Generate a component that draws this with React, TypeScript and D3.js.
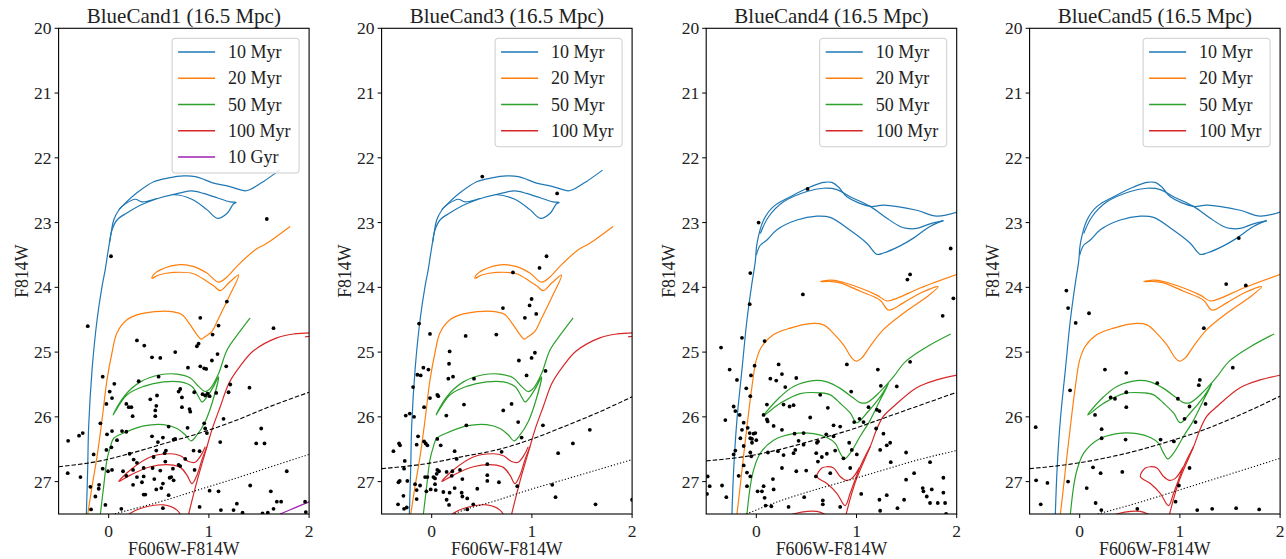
import React from "react";
import * as d3 from "d3";

type P = [number, number];

// ---------- axes / labels ----------
const X_DOMAIN: [number, number] = [-0.5, 2];
const Y_DOMAIN: [number, number] = [20, 27.5];
const X_TICKS = [0, 1, 2];
const Y_TICKS = [20, 21, 22, 23, 24, 25, 26, 27];
const TITLES = ["BlueCand1 (16.5 Mpc)", "BlueCand3 (16.5 Mpc)", "BlueCand4 (16.5 Mpc)", "BlueCand5 (16.5 Mpc)"];
const X_LABEL = "F606W-F814W";
const Y_LABEL = "F814W";
const AGE_LABELS = ["10 Myr", "20 Myr", "50 Myr", "100 Myr", "10 Gyr"];
const AGE_COLORS = ["#1f77b4", "#ff7f0e", "#2ca02c", "#d62728", "#a11fb4"];

// ---------- isochrone set A (BlueCand1, BlueCand3) ----------
const ISO_A_10MYR: P[][] = [
  [[-0.223, 27.5], [-0.21, 26.82], [-0.2, 26.15], [-0.166, 25.27], [-0.116, 24.5], [-0.066, 23.98], [-0.035, 23.73], [-0.01, 23.48], [0.023, 23.17], [0.05, 22.96], [0.1, 22.81], [0.166, 22.7], [0.282, 22.54], [0.449, 22.37], [0.6, 22.31], [0.748, 22.28], [0.864, 22.29], [0.96, 22.34], [1.047, 22.39], [1.2, 22.44], [1.363, 22.51], [1.412, 22.49], [1.55, 22.36], [1.705, 22.19]],
  [[0.01, 23.3], [0.033, 23.115], [0.083, 22.96], [0.183, 22.85], [0.349, 22.71], [0.648, 22.57], [0.83, 22.64], [0.98, 22.8], [1.086, 22.935], [1.18, 22.86], [1.246, 22.71], [1.272, 22.69], [1.213, 22.68], [1.047, 22.6], [0.947, 22.55], [0.83, 22.51], [0.714, 22.54], [0.482, 22.63], [0.332, 22.68], [0.266, 22.64], [0.166, 22.71], [0.1, 22.8]],
];
const ISO_A_20MYR: P[][] = [
  [[-0.209, 27.5], [-0.166, 27.07], [-0.116, 26.61], [-0.066, 26.04], [-0.017, 25.43], [0.033, 25.01], [0.083, 24.7], [0.183, 24.5], [0.316, 24.41], [0.515, 24.37], [0.648, 24.38], [0.73, 24.42], [0.814, 24.58], [0.88, 24.73], [0.924, 24.8], [0.963, 24.76], [1.03, 24.68], [1.09, 24.5], [1.2, 24.15], [1.296, 23.81],
   [1.2, 23.93], [1.113, 24.05], [1.05, 23.98], [0.981, 23.91], [0.847, 23.79], [0.648, 23.77], [0.5, 23.81], [0.432, 23.86],
   [0.45, 23.8], [0.515, 23.73], [0.715, 23.65], [0.848, 23.68], [0.98, 23.78], [1.097, 23.92], [1.18, 23.84], [1.296, 23.65], [1.463, 23.42], [1.578, 23.32], [1.81, 23.06]],
];
const ISO_A_50MYR: P[][] = [
  [[-0.083, 27.5], [-0.05, 27.07], [-0.017, 26.66], [0.017, 26.46], [0.05, 26.33], [0.15, 26.25], [0.349, 26.14], [0.548, 26.12], [0.682, 26.18], [0.765, 26.28], [0.821, 26.37], [0.881, 26.28], [0.964, 26.07], [1.031, 25.79], [1.097, 25.38],
   [1.047, 25.53], [0.981, 25.69], [0.931, 25.77], [0.897, 25.69], [0.831, 25.53], [0.715, 25.46], [0.548, 25.46], [0.349, 25.53], [0.183, 25.66], [0.044, 25.97],
   [0.15, 25.69], [0.316, 25.46], [0.515, 25.35], [0.682, 25.34], [0.815, 25.4], [0.897, 25.53], [0.964, 25.61], [1.014, 25.56], [1.097, 25.33], [1.18, 24.97], [1.3, 24.7], [1.412, 24.47]],
];
const ISO_A_100MYR: P[][] = [
  [[0.2, 27.52], [0.216, 27.49], [0.349, 27.4], [0.548, 27.36], [0.682, 27.44], [0.72, 27.52]],
  [[0.798, 27.5], [0.88, 27.0], [0.981, 26.46], [1.03, 26.2], [1.114, 25.84], [1.2, 25.48], [1.31, 25.22], [1.445, 24.98], [1.678, 24.78], [1.85, 24.72], [2.05, 24.7]],
  [[0.981, 26.46], [0.931, 26.66], [0.881, 26.9], [0.831, 27.03], [0.781, 26.9], [0.715, 26.78], [0.615, 26.74], [0.415, 26.77], [0.216, 26.9], [0.1, 27.0], [0.216, 26.82], [0.415, 26.62], [0.615, 26.57], [0.715, 26.6], [0.798, 26.69], [0.864, 26.7], [0.914, 26.61], [0.964, 26.46]],
  [[1.96, 24.765], [2.01, 24.755]],
];
const ISO_A_10GYR: P[][] = [
  [[1.71, 27.5], [1.85, 27.41], [2.02, 27.3]],
];

// ---------- isochrone set B (BlueCand4, BlueCand5) ----------
const ISO_B_10MYR: P[][] = [
  [[-0.243, 27.5], [-0.226, 26.82], [-0.193, 26.04], [-0.143, 25.27], [-0.093, 24.5], [-0.043, 23.93], [-0.01, 23.6], [0.007, 23.32], [0.073, 22.96], [0.173, 22.75], [0.339, 22.6], [0.538, 22.45], [0.671, 22.38], [0.754, 22.38], [0.82, 22.45], [0.904, 22.6], [1.136, 22.75], [1.27, 22.73], [1.6, 22.81], [1.8, 22.9], [2.02, 22.83]],
  [[0.04, 23.17], [0.123, 22.91], [0.272, 22.68], [0.505, 22.52], [0.671, 22.47], [0.804, 22.49], [0.937, 22.6], [1.136, 22.75], [1.3, 22.93], [1.435, 23.06], [1.502, 23.09], [1.6, 23.09], [1.734, 23.02], [1.867, 22.97]],
  [[0.0, 23.5], [0.04, 23.35], [0.106, 23.27], [0.206, 23.11], [0.405, 22.96], [0.605, 22.9], [0.738, 22.92], [0.937, 23.12], [1.103, 23.32], [1.203, 23.49], [1.27, 23.47], [1.435, 23.36], [1.568, 23.24], [1.734, 23.06], [1.867, 22.97]],
];
const ISO_B_20MYR: P[][] = [
  [[-0.193, 27.5], [-0.176, 27.28], [-0.143, 26.82], [-0.093, 26.15], [-0.043, 25.53], [0.0, 25.12], [0.056, 24.91], [0.173, 24.73], [0.339, 24.63], [0.538, 24.56], [0.671, 24.58], [0.77, 24.71], [0.87, 24.89], [0.953, 25.09], [0.997, 25.14], [1.053, 25.09], [1.136, 24.91], [1.27, 24.65], [1.468, 24.4], [1.7, 24.15], [1.816, 23.99],
   [1.65, 24.08], [1.466, 24.24], [1.32, 24.35], [1.236, 24.2], [1.037, 24.06], [0.838, 23.93], [0.738, 23.91], [0.638, 23.91],
   [0.738, 23.89], [0.837, 23.91], [1.037, 24.01], [1.203, 24.12], [1.303, 24.21], [1.4, 24.17], [1.635, 24.01], [2.02, 23.79]],
];
const ISO_B_50MYR: P[][] = [
  [[-0.093, 27.5], [-0.06, 27.07], [-0.027, 26.82], [0.04, 26.56], [0.173, 26.36], [0.372, 26.26], [0.571, 26.26], [0.705, 26.32], [0.788, 26.41], [0.837, 26.56], [0.88, 26.65], [0.937, 26.56], [1.037, 26.3], [1.137, 26.05], [1.236, 25.74], [1.319, 25.49],
   [1.236, 25.69], [1.103, 25.94], [1.004, 26.09], [0.937, 25.94], [0.837, 25.79], [0.738, 25.66], [0.638, 25.63], [0.439, 25.64], [0.239, 25.79], [0.08, 25.97],
   [0.239, 25.69], [0.372, 25.53], [0.571, 25.44], [0.705, 25.46], [0.837, 25.56], [0.97, 25.71], [1.037, 25.78], [1.103, 25.78], [1.236, 25.61], [1.37, 25.38], [1.486, 25.15], [1.7, 24.92], [1.94, 24.72]],
];
const ISO_B_100MYR: P[][] = [
  [[0.33, 27.52], [0.45, 27.47], [0.605, 27.46], [0.704, 27.52]],
  [[0.897, 27.5], [0.99, 27.0], [1.137, 26.46], [1.2, 26.2], [1.269, 25.99], [1.37, 25.84], [1.6, 25.55], [1.8, 25.43], [2.02, 25.35]],
  [[1.137, 26.46], [1.037, 26.77], [0.937, 27.18], [0.887, 27.37], [0.804, 27.18], [0.705, 27.03], [0.605, 26.92], [0.655, 26.79], [0.705, 26.77], [0.771, 26.79], [0.837, 26.92], [0.897, 26.98], [0.954, 26.95], [1.03, 26.78]],
];

// ---------- completeness limits ----------
const DASHED_1: P[] = [[-0.5, 26.77], [-0.083, 26.68], [0.25, 26.55], [0.58, 26.4], [0.91, 26.25], [1.245, 26.07], [1.578, 25.86], [2.0, 25.62]];
const DOTTED_1: P[] = [[0.0, 27.52], [0.58, 27.28], [0.91, 27.12], [1.245, 26.96], [1.58, 26.79], [2.0, 26.58]];
const DASHED_2: P[] = [[-0.5, 26.8], [0.0, 26.71], [0.32, 26.61], [0.65, 26.51], [0.987, 26.35], [1.32, 26.15], [1.65, 25.94], [2.0, 25.69]];
const DOTTED_2: P[] = [[0.2, 27.51], [0.32, 27.44], [0.65, 27.29], [0.987, 27.12], [1.32, 26.97], [1.65, 26.82], [2.0, 26.66]];
const DASHED_3: P[] = [[-0.5, 26.68], [-0.06, 26.6], [0.27, 26.49], [0.6, 26.35], [0.94, 26.2], [1.27, 26.02], [1.6, 25.84], [2.0, 25.62]];
const DOTTED_3: P[] = [[-0.1, 27.5], [0.27, 27.28], [0.6, 27.12], [0.94, 26.97], [1.27, 26.82], [1.6, 26.67], [2.0, 26.52]];
const DASHED_4: P[] = [[-0.5, 26.8], [-0.09, 26.73], [0.24, 26.64], [0.575, 26.52], [0.91, 26.37], [1.24, 26.2], [1.57, 25.99], [2.0, 25.68]];
const DOTTED_4: P[] = [[0.18, 27.5], [0.575, 27.33], [0.91, 27.17], [1.24, 27.01], [1.57, 26.85], [2.0, 26.64]];

// ---------- stars ----------
const STARS_1: P[] = [
  [1.578, 22.945], [0.023, 23.52],
  [1.179, 24.22], [0.914, 24.47], [-0.209, 24.6], [1.096, 24.59], [1.037, 24.73], [1.645, 24.63], [0.88, 24.91], [0.897, 24.87], [0.282, 24.82], [0.355, 24.9], [0.664, 25.0], [0.432, 25.08], [0.515, 25.09], [1.086, 25.03], [1.03, 25.13], [0.791, 25.24], [0.914, 25.22], [0.953, 25.25], [0.973, 25.26], [1.173, 25.22], [-0.06, 25.38], [0.498, 25.38], [0.299, 25.45], [0.056, 25.49], [1.213, 25.5], [1.405, 25.55], [0.01, 25.61], [0.698, 25.61], [0.714, 25.57], [0.854, 25.62], [1.073, 25.63], [0.482, 25.67], [1.196, 25.62], [0.731, 25.7], [0.033, 25.71], [0.415, 25.73], [0.937, 25.65], [0.963, 25.67], [0.987, 25.64], [1.007, 25.68], [-0.023, 25.8], [0.176, 25.8], [0.2, 25.85], [0.226, 25.85], [0.475, 25.83], [0.465, 25.9], [0.807, 25.88], [0.814, 25.92], [0.239, 25.99], [0.465, 25.99], [0.731, 25.85], [1.146, 26.03], [-0.083, 26.1], [0.598, 26.15], [0.787, 26.17], [0.963, 26.18], [0.98, 26.25], [0.953, 26.1], [-0.296, 26.29], [-0.259, 26.25], [-0.405, 26.37], [-0.017, 26.27], [0.033, 26.22], [0.133, 26.22], [0.176, 26.23], [0.083, 26.36], [0.432, 26.3], [0.491, 26.39], [0.541, 26.32], [0.648, 26.35], [0.664, 26.34], [-0.023, 26.51], [0.027, 26.47], [0.209, 26.57], [0.475, 26.52], [0.571, 26.52], [0.558, 26.56], [-0.15, 26.58], [0.249, 26.66], [0.282, 26.71], [0.448, 26.62], [0.565, 26.69], [0.764, 26.65], [0.847, 26.52], [0.907, 26.53], [0.714, 26.76], [-0.06, 26.8], [-0.007, 26.84], [0.033, 26.82], [0.243, 26.82], [0.349, 26.79], [0.438, 26.79], [0.515, 26.83], [0.143, 26.84], [0.176, 26.91], [0.641, 26.8], [0.698, 26.74], [0.857, 26.82], [-0.409, 26.87], [-0.282, 26.93], [0.282, 26.93], [0.349, 26.92], [0.455, 26.96], [0.608, 26.94], [0.624, 26.93], [0.648, 26.98], [-0.096, 27.05], [0.243, 27.05], [0.332, 27.01], [0.541, 27.03], [-0.183, 27.08], [0.475, 27.12], [0.525, 27.1], [-0.1, 27.11], [1.007, 27.14], [1.096, 27.15], [1.412, 27.06], [1.618, 27.15], [1.777, 26.84], [-0.133, 27.23], [0.349, 27.2], [0.365, 27.2], [0.598, 27.21], [1.279, 27.34], [1.678, 27.31], [1.721, 27.31], [1.96, 27.31], [0.126, 27.42], [0.541, 27.41], [0.907, 27.39], [1.12, 27.44], [1.246, 27.44], [-0.176, 27.43], [-0.033, 27.36], [1.336, 27.48], [1.535, 27.49], [1.588, 27.48], [1.645, 27.42], [1.967, 27.47], [1.522, 26.18], [1.472, 26.41], [1.555, 26.41], [1.113, 26.39],
];
const STARS_2: P[] = [
  [0.505, 22.29], [1.252, 22.55], [1.146, 23.52], [1.076, 23.7], [0.811, 23.77],
  [0.997, 24.18], [0.977, 24.28], [0.711, 24.32], [1.043, 24.41], [0.93, 24.47], [-0.126, 24.56], [-0.017, 24.72], [0.645, 24.73], [0.339, 24.75], [0.179, 24.99], [1.03, 25.01], [0.997, 25.09], [0.87, 25.13], [0.173, 25.18], [-0.083, 25.24], [-0.033, 25.27], [-0.143, 25.35], [-0.11, 25.36], [1.136, 25.29], [0.947, 25.36], [0.166, 25.41], [0.213, 25.38], [0.422, 25.41], [-0.186, 25.54], [0.056, 25.66], [0.066, 25.68], [-0.017, 25.71], [0.322, 25.81], [0.797, 25.8], [0.714, 25.9], [-0.076, 25.85], [-0.259, 25.98], [-0.219, 25.95], [-0.176, 26.0], [0.146, 25.98], [0.863, 26.08], [1.11, 26.13], [0.346, 26.13], [1.578, 26.2], [-0.382, 26.53], [-0.326, 26.41], [-0.316, 26.44], [-0.269, 26.68], [-0.136, 26.3], [-0.076, 26.38], [-0.06, 26.41], [-0.043, 26.44], [-0.15, 26.43], [0.056, 26.34], [0.09, 26.44], [0.229, 26.53], [0.698, 26.54], [0.897, 26.32], [1.409, 26.41], [1.262, 26.56], [0.249, 26.65], [-0.276, 26.8], [0.056, 26.82], [0.073, 26.84], [0.05, 26.88], [0.149, 26.85], [0.206, 26.84], [0.282, 26.82], [0.2, 26.91], [0.555, 26.73], [0.555, 26.9], [0.555, 26.99], [0.671, 27.01], [0.306, 26.96], [-0.243, 26.99], [-0.332, 27.01], [-0.319, 26.99], [-0.166, 27.04], [-0.066, 26.93], [-0.043, 26.93], [0.017, 26.93], [0.033, 26.95], [0.854, 27.07], [1.203, 27.05], [-0.282, 27.22], [-0.15, 27.13], [-0.053, 27.15], [-0.01, 27.12], [0.04, 27.13], [0.116, 27.16], [0.179, 27.17], [0.229, 27.1], [0.299, 27.17], [0.306, 27.23], [0.355, 27.26], [0.455, 27.11], [0.149, 27.28], [0.173, 27.36], [-0.336, 27.35], [-0.249, 27.4], [-0.276, 27.42], [-0.15, 27.27], [0.355, 27.43], [0.415, 27.35], [1.236, 27.24], [1.635, 27.35], [2.0, 27.28], [0.033, 27.04], [-0.116, 27.06],
];
const STARS_3: P[] = [
  [0.512, 22.48], [0.023, 23.0], [1.94, 23.4], [1.535, 23.8], [-0.06, 23.78], [1.508, 23.88],
  [0.465, 24.11], [1.967, 24.17], [-0.066, 24.26], [1.86, 24.44], [-0.143, 24.78], [0.083, 24.83], [-0.352, 24.93], [1.535, 25.15], [0.904, 25.19], [-0.266, 25.27], [-0.053, 25.36], [-0.017, 25.21], [0.223, 25.19], [1.213, 25.27], [0.14, 25.41], [0.199, 25.44], [0.256, 25.34], [0.399, 25.4], [0.289, 25.54], [-0.193, 25.43], [-0.1, 25.56], [-0.06, 25.68], [1.402, 25.53], [1.243, 25.52], [0.947, 25.61], [0.638, 25.66], [0.106, 25.81], [0.272, 25.81], [0.332, 25.84], [0.372, 25.82], [0.714, 25.86], [1.203, 25.89], [1.229, 25.91], [1.12, 25.85], [-0.226, 25.84], [-0.166, 25.97], [-0.309, 26.05], [0.073, 25.97], [0.106, 26.04], [0.113, 26.07], [-0.209, 25.91], [-0.126, 26.09], [-0.143, 26.2], [-0.086, 26.17], [-0.066, 26.25], [-0.027, 26.26], [-0.01, 26.25], [0.173, 26.14], [0.256, 26.2], [0.382, 26.26], [0.472, 26.25], [0.538, 26.01], [0.422, 26.37], [0.605, 26.4], [0.771, 26.13], [0.837, 26.15], [0.977, 26.08], [1.03, 26.03], [1.07, 26.08], [1.196, 26.18], [1.269, 26.26], [1.336, 26.4], [0.927, 26.4], [0.771, 26.3], [0.698, 26.27], [0.615, 26.38], [0.472, 26.43], [-0.06, 26.33], [-0.043, 26.34], [0.0, 26.36], [-0.043, 26.4], [-0.159, 26.33], [-0.126, 26.45], [-0.209, 26.52], [-0.226, 26.58], [-0.06, 26.55], [0.116, 26.55], [0.216, 26.53], [0.272, 26.59], [0.372, 26.56], [0.389, 26.51], [0.598, 26.56], [0.654, 26.62], [0.704, 26.57], [0.787, 26.52], [0.87, 26.64], [0.953, 26.51], [1.003, 26.58], [1.236, 26.51], [1.302, 26.44], [1.342, 26.7], [1.495, 26.55], [1.734, 26.7], [-0.05, 26.61], [-0.126, 26.75], [-0.093, 26.86], [-0.06, 26.92], [-0.093, 27.07], [-0.176, 26.91], [-0.342, 27.06], [-0.299, 27.24], [-0.485, 26.92], [-0.465, 27.07], [-0.492, 27.19], [0.013, 27.15], [0.056, 27.15], [0.073, 27.07], [0.166, 26.96], [0.173, 27.12], [0.083, 27.25], [0.093, 27.37], [0.15, 27.38], [0.256, 26.79], [0.322, 27.39], [0.399, 26.84], [0.498, 26.83], [0.478, 27.24], [0.595, 26.92], [0.615, 26.69], [0.664, 27.29], [0.664, 27.35], [0.738, 26.87], [0.837, 27.39], [0.937, 26.79], [1.047, 27.19], [1.229, 27.28], [1.302, 27.21], [1.409, 27.41], [1.475, 27.28], [1.495, 26.97], [1.575, 26.87], [1.661, 27.1], [1.668, 27.15], [1.701, 27.23], [1.751, 27.12], [1.734, 27.33], [1.811, 27.33], [1.867, 27.17], [1.867, 26.94], [1.884, 27.33], [1.894, 27.5], [1.236, 27.45],
];
const STARS_4: P[] = [
  [1.588, 23.24],
  [1.462, 23.95], [1.658, 23.97], [-0.133, 24.05], [-0.116, 24.32], [0.093, 24.4], [-0.04, 24.55], [1.239, 24.63], [1.528, 25.24], [0.252, 25.27], [0.465, 25.32], [1.199, 25.43], [1.189, 25.51], [0.774, 25.48], [0.465, 25.62], [-0.096, 25.59], [0.309, 25.7], [0.352, 25.72], [0.98, 25.72], [0.465, 25.85], [1.096, 25.84], [1.256, 25.8], [0.153, 25.97], [-0.439, 26.16], [1.046, 26.03], [1.156, 26.08], [0.219, 26.19], [0.219, 26.33], [0.458, 26.35], [0.807, 26.35], [0.94, 26.38], [0.133, 26.78], [0.425, 26.85], [0.209, 26.87], [1.096, 26.79], [-0.435, 26.98], [-0.116, 27.0], [-0.322, 27.02], [0.07, 27.1], [0.99, 27.06], [0.957, 27.31], [-0.389, 27.35], [0.159, 27.33], [0.216, 27.44], [0.575, 27.42], [1.173, 27.44], [1.322, 27.42], [1.561, 27.41], [1.791, 27.43],
];

const ISO_A = [ISO_A_10MYR, ISO_A_20MYR, ISO_A_50MYR, ISO_A_100MYR, ISO_A_10GYR];
const ISO_B = [ISO_B_10MYR, ISO_B_20MYR, ISO_B_50MYR, ISO_B_100MYR];

const PANELS = [
  { title: TITLES[0], stars: STARS_1, iso: ISO_A, ages: 5, dashed: DASHED_1, dotted: DOTTED_1 },
  { title: TITLES[1], stars: STARS_2, iso: ISO_A, ages: 4, dashed: DASHED_2, dotted: DOTTED_2 },
  { title: TITLES[2], stars: STARS_3, iso: ISO_B, ages: 4, dashed: DASHED_3, dotted: DOTTED_3 },
  { title: TITLES[3], stars: STARS_4, iso: ISO_B, ages: 4, dashed: DASHED_4, dotted: DOTTED_4 },
];

// ---------- layout ----------
const W = 1286;
const H = 559;
const PANEL_LEFT = [58.6, 381.6, 706.2, 1029.6];
const PANEL_W = 250.5;
const TOP = 28.3;
const BOTTOM = 514;
const FONT = "'Liberation Serif', 'DejaVu Serif', serif";

function Panel({ i }: { i: number }) {
  const cfg = PANELS[i];
  const left = PANEL_LEFT[i];
  const right = left + PANEL_W;
  const x = d3.scaleLinear().domain(X_DOMAIN).range([left, right]);
  const y = d3.scaleLinear().domain(Y_DOMAIN).range([TOP, BOTTOM]);
  const iso = d3.line<P>().x((d) => x(d[0])).y((d) => y(d[1])).curve(d3.curveCatmullRom.alpha(0.5));
  const lim = d3.line<P>().x((d) => x(d[0])).y((d) => y(d[1])).curve(d3.curveMonotoneX);
  const clipId = `clip-${i}`;
  const n = cfg.ages;
  const legW = 127;
  const legH = 29.7 + (n - 1) * 26.25;
  const legX = right - 10 - legW;
  const legY = TOP + 10;
  const midY = (TOP + BOTTOM) / 2;

  return (
    <g>
      <defs>
        <clipPath id={clipId}>
          <rect x={left} y={TOP} width={PANEL_W} height={BOTTOM - TOP} />
        </clipPath>
      </defs>
      <g clipPath={`url(#${clipId})`}>
        {cfg.iso.slice(0, n).map((paths, a) =>
          paths.map((p, k) => (
            <path key={`${a}-${k}`} d={iso(p) || ""} fill="none" stroke={AGE_COLORS[a]} strokeWidth={1.2} />
          ))
        )}
        <path d={lim(cfg.dashed) || ""} fill="none" stroke="#000" strokeWidth={1.1} strokeDasharray="4.5,2" />
        <path d={lim(cfg.dotted) || ""} fill="none" stroke="#000" strokeWidth={1.1} strokeDasharray="1.2,2" />
        {cfg.stars.map((s, k) => (
          <circle key={k} cx={x(s[0])} cy={y(s[1])} r={1.9} fill="#000" />
        ))}
      </g>
      <rect x={left} y={TOP} width={PANEL_W} height={BOTTOM - TOP} fill="none" stroke="#000" strokeWidth={1.1} />
      {Y_TICKS.map((t) => (
        <g key={`y${t}`}>
          <line x1={left - 4} x2={left} y1={y(t)} y2={y(t)} stroke="#000" strokeWidth={1} />
          <text x={left - 7} y={y(t)} dy="0.34em" textAnchor="end" fontSize={17.5} fontFamily={FONT} fill="#222">
            {t}
          </text>
        </g>
      ))}
      {X_TICKS.map((t) => (
        <g key={`x${t}`}>
          <line x1={x(t)} x2={x(t)} y1={BOTTOM} y2={BOTTOM + 4} stroke="#000" strokeWidth={1} />
          <text x={x(t)} y={536.5} textAnchor="middle" fontSize={17.5} fontFamily={FONT} fill="#222">
            {t}
          </text>
        </g>
      ))}
      <text x={(left + right) / 2} y={555} textAnchor="middle" fontSize={17.8} fontFamily={FONT} fill="#222">
        {X_LABEL}
      </text>
      <text
        transform={`translate(${left - 31},${midY}) rotate(-90)`}
        textAnchor="middle"
        fontSize={17.8}
        fontFamily={FONT}
        fill="#222"
      >
        {Y_LABEL}
      </text>
      <text x={(left + right) / 2} y={22.5} textAnchor="middle" fontSize={21} fontFamily={FONT} fill="#222">
        {cfg.title}
      </text>
      <g>
        <rect x={legX} y={legY} width={legW} height={legH} rx={3} fill="#fff" fillOpacity={0.8} stroke="#cccccc" strokeWidth={1} />
        {AGE_LABELS.slice(0, n).map((lab, a) => {
          const cy = legY + 13.7 + a * 26.25;
          return (
            <g key={lab}>
              <line x1={legX + 6} x2={legX + 43} y1={cy} y2={cy} stroke={AGE_COLORS[a]} strokeWidth={1.3} />
              <text x={legX + 56} y={cy} dy="0.34em" fontSize={18} fontFamily={FONT} fill="#222">
                {lab}
              </text>
            </g>
          );
        })}
      </g>
    </g>
  );
}

export default function App() {
  return (
    <svg
      width={W}
      height={H}
      viewBox={`0 0 ${W} ${H}`}
      style={{ position: "absolute", left: 0, top: 0, background: "#fff" }}
    >
      <rect x={0} y={0} width={W} height={H} fill="#fff" />
      {PANELS.map((_, i) => (
        <Panel key={i} i={i} />
      ))}
    </svg>
  );
}
